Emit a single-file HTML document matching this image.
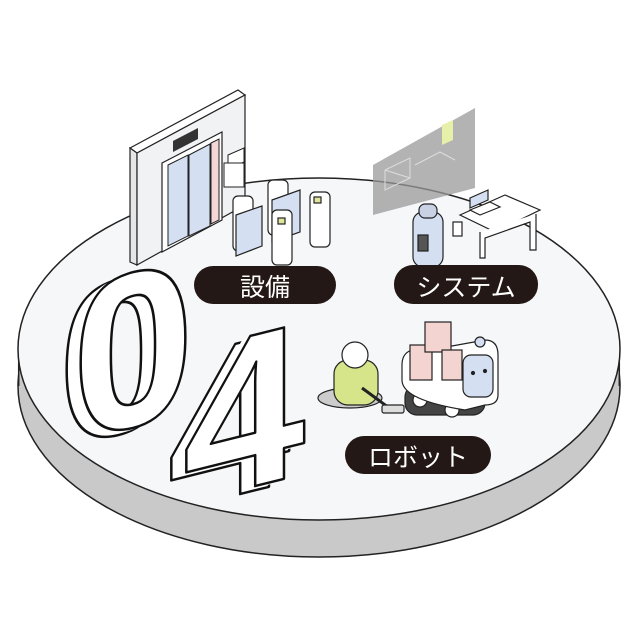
<!DOCTYPE html>
<html><head><meta charset="utf-8"><style>
html,body{margin:0;padding:0;background:#fff;}
svg{display:block}
text{font-family:"Liberation Sans","Noto Sans CJK JP",sans-serif;}
</style></head><body>
<svg width="640" height="640" viewBox="0 0 640 640" xmlns="http://www.w3.org/2000/svg">
<rect width="640" height="640" fill="#fff"/>
<!-- platform -->
<ellipse cx="319" cy="386" rx="301" ry="171" fill="#c9c9c9" stroke="#222" stroke-width="1.5"/>
<rect x="18.7" y="349" width="600.6" height="37" fill="#c9c9c9"/>
<line x1="18.7" y1="349" x2="18.7" y2="386" stroke="#222" stroke-width="1.5"/>
<line x1="619.3" y1="349" x2="619.3" y2="386" stroke="#222" stroke-width="1.5"/>
<ellipse cx="319" cy="349" rx="301" ry="171" fill="#f6f7f9" stroke="#222" stroke-width="1.5"/>

<!-- elevator wall -->
<polygon points="130,148 238,90 245,95 137,153" fill="#fff" stroke="#222" stroke-width="1.2"/>
<polygon points="130,148 137,153 137,265 130,262" fill="#e6e6e6" stroke="#222" stroke-width="1.2"/>
<polygon points="137,153 245,95 245,205 137,265" fill="#f1f2f4" stroke="#222" stroke-width="1.2"/>
<polygon points="162,163 222,132 222,220 162,252" fill="#fff" stroke="#222" stroke-width="1.2"/>
<polygon points="168,165 188,155 188,236 168,246" fill="#d4e0f2" stroke="#222" stroke-width="1"/>
<polygon points="189,155 210,144 210,226 189,236" fill="#d4e0f2" stroke="#222" stroke-width="1"/>
<polygon points="211,143 219,139 219,220 211,224" fill="#f4d6d6" stroke="#222" stroke-width="1"/>
<polygon points="173,141 198,128 198,139 173,152" fill="#333"/>
<polygon points="228,155 244,148 244,162 228,170" fill="#fff" stroke="#222"/>
<rect x="224" y="163" width="20" height="24" fill="#fff" stroke="#222"/>
<!-- gates -->
<g stroke="#222" stroke-width="1.2">
<rect x="268" y="180" width="20" height="55" rx="5" fill="#fff"/>
<rect x="310" y="192" width="20" height="55" rx="5" fill="#fff"/>
<polygon points="272,200 300,190 300,232 272,242" fill="#d4e0f2"/>
<rect x="233" y="196" width="20" height="55" rx="5" fill="#fff"/>
<rect x="272" y="210" width="20" height="55" rx="5" fill="#fff"/>
<polygon points="236,215 262,206 262,246 236,256" fill="#d4e0f2"/>
<rect x="314" y="197" width="7" height="6" fill="#dfe59a"/>
<rect x="278" y="218" width="7" height="6" fill="#dfe59a"/>
</g>
<!-- hologram -->
<polygon points="373,165 475,108 475,188 373,215" fill="#9a9a9a" opacity="0.75"/>
<polygon points="442,125 453,120 453,140 442,145" fill="#e7efa8"/>
<g stroke="#ddd" stroke-width="1" fill="none"><polyline points="385,170 410,158 410,178 385,190 385,170"/><line x1="385" y1="170" x2="410" y2="178"/><polyline points="415,165 440,152 455,160"/></g>
<!-- camera robot -->
<g stroke="#222" stroke-width="1.2">
<rect x="413" y="212" width="30" height="55" rx="10" fill="#d4e0f2"/>
<rect x="419" y="204" width="18" height="14" rx="6" fill="#c8d2e4"/>
<rect x="418" y="235" width="10" height="16" fill="#555"/>
<rect x="453" y="222" width="9" height="14" fill="#fff"/>
<!-- desk -->
<polygon points="460,215 505,195 540,210 495,232" fill="#fff"/>
<polyline points="480,232 480,258 485,258 485,238 530,222 530,250 536,250 536,214" fill="#fff"/>
<polygon points="470,208 488,200 488,190 470,198" fill="#d4e0f2"/>
<polygon points="470,210 490,202 500,207 480,215" fill="#fff"/>
</g>
<!-- 04 -->
<g font-weight="bold" font-size="220" fill="#fff" stroke="#111" stroke-width="2.5" stroke-linejoin="round">
<g transform="translate(58,448) skewY(-14)"><text x="0" y="0">0</text></g>
<g transform="translate(64,445) skewY(-14)"><text x="0" y="0" stroke="none">0</text></g>
<g transform="translate(72,441) skewY(-14)"><text x="0" y="0">0</text></g>
<g transform="translate(168,512) skewY(-14)"><text x="0" y="0">4</text></g>
<g transform="translate(175,508) skewY(-14)"><text x="0" y="0" stroke="none">4</text></g>
<g transform="translate(183,504) skewY(-14)"><text x="0" y="0">4</text></g>
</g>
<!-- cleaner robot -->
<g stroke="#222" stroke-width="1.2">
<ellipse cx="350" cy="398" rx="32" ry="10" fill="#ccc"/>
<rect x="334" y="360" width="44" height="45" rx="14" fill="#d6e48a"/>
<circle cx="355" cy="355" r="13" fill="#fff"/>
<line x1="362" y1="388" x2="392" y2="410" stroke-width="3"/>
<rect x="382" y="405" width="22" height="8" rx="2" fill="#ddd"/>
</g>
<!-- cargo robot -->
<g stroke="#222" stroke-width="1.2">
<rect x="405" y="385" width="80" height="30" rx="12" fill="#444"/>
<circle cx="420" cy="400" r="7" fill="#fff"/><circle cx="452" cy="410" r="7" fill="#fff"/>
<path d="M402 365 Q402 345 430 350 L485 340 Q498 340 498 355 L498 395 Q498 405 485 405 L465 410 Q402 400 402 380 Z" fill="#fff"/>
<rect x="410" y="345" width="22" height="35" fill="#f3d4d0"/>
<rect x="425" y="322" width="26" height="30" fill="#f3d4d0"/>
<rect x="442" y="350" width="20" height="30" fill="#f3d4d0"/>
<rect x="463" y="355" width="30" height="42" rx="8" fill="#d4e0f2"/>
<circle cx="480" cy="342" r="5" fill="#d4e0f2"/>
<circle cx="473" cy="373" r="1.5" fill="#222"/><circle cx="485" cy="371" r="1.5" fill="#222"/>
</g>
<!-- labels -->
<rect x="194" y="266" width="142" height="38" rx="19" fill="#231815"/>
<text x="265" y="296" fill="#fff" font-size="25" text-anchor="middle">設備</text>
<rect x="394" y="265" width="144" height="39" rx="19" fill="#231815"/>
<text x="466" y="296" fill="#fff" font-size="25" text-anchor="middle">システム</text>
<rect x="345" y="436" width="146" height="38" rx="19" fill="#231815"/>
<text x="418" y="466" fill="#fff" font-size="25" text-anchor="middle">ロボット</text>
</svg>
</body></html>
